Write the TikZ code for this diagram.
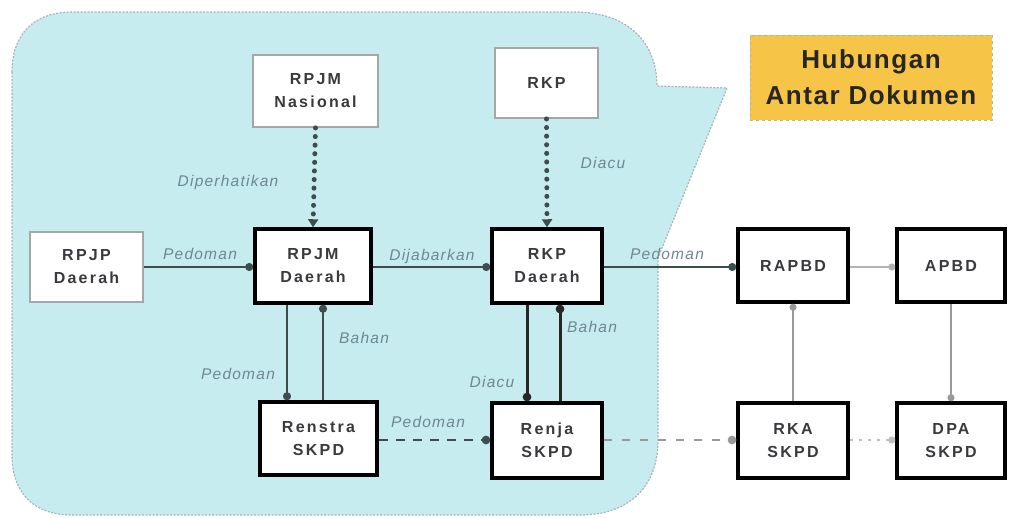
\documentclass[tikz,border=0pt]{standalone}
\usepackage{fontspec}
\setmainfont{Liberation Sans}
\newfontfamily\boxfont[LetterSpace=14]{Liberation Sans}
\newfontfamily\hubfont[LetterSpace=6]{Liberation Sans}
\newfontfamily\lblfont[LetterSpace=8]{Liberation Sans}
\usetikzlibrary{arrows.meta}
\definecolor{regionfill}{HTML}{C6ECEF}
\definecolor{regionline}{HTML}{A9B4B8}
\definecolor{boxtext}{HTML}{3A3A3E}
\definecolor{lbl}{HTML}{6E8793}
\definecolor{conn}{HTML}{3E4C4E}
\definecolor{hubfill}{HTML}{F6C446}
\tikzset{
  docbox/.style={draw=black, line width=3.5pt, fill=white, inner sep=0pt, align=center,
    font=\boxfont\fontsize{16}{23}\selectfont\bfseries, text=boxtext},
  lightbox/.style={docbox, draw=black!35, line width=1.8pt},
  lbltext/.style={font=\lblfont\fontsize{15.5}{18}\selectfont\itshape, text=lbl},
  solidconn/.style={draw=conn, line width=1.8pt, -{Circle[length=8pt]}},
  thickconn/.style={draw=black!85, line width=3pt, -{Circle[length=8.5pt]}},
  greyconn/.style={draw=black!40, line width=1.5pt, -{Circle[length=7pt]}},
  dotconn/.style={draw=conn, line width=5pt, line cap=round, dash pattern=on 0.1pt off 8.5pt,
    -{Triangle[length=8pt,width=10pt,line cap=butt]}},
  dashconn/.style={draw=conn, line width=2.6pt, dash pattern=on 9pt off 8pt, -{Circle[length=8.5pt]}},
}
\begin{document}
\begin{tikzpicture}[x=1pt,y=-1pt]
\useasboundingbox (0,0) rectangle (1009,517);
% region
\draw[fill=regionfill, draw=regionline, line width=1.2pt, dashed, dash pattern=on 2pt off 1.5pt]
  (12,72) .. controls (12,34) and (34,12) .. (72,12) -- (575,12)
  .. controls (625,12) and (657,40) .. (657,86) -- (727,88) -- (658,258) -- (658,440)
  .. controls (658,488) and (628,515) .. (580,515) -- (72,515)
  .. controls (34,515) and (12,493) .. (12,455) -- cycle;
% title
\node[fill=hubfill, draw=black!30, dashed, line width=1pt, minimum width=242pt, minimum height=85pt,
  inner sep=0pt, align=center, font=\hubfont\fontsize{26}{36}\selectfont\bfseries, text=black!85]
  (hub) at (871,77.5) {Hubungan\\Antar Dokumen};
% boxes
\node[lightbox, minimum width=125pt, minimum height=72pt] (rpjmn) at (315.5,91) {RPJM\\Nasional};
\node[lightbox, minimum width=103pt, minimum height=70pt] (rkp) at (546.5,83) {RKP};
\node[lightbox, minimum width=113pt, minimum height=70pt] (rpjp) at (86.5,267) {RPJP\\Daerah};
\node[docbox, minimum width=116pt, minimum height=74pt] (rpjmd) at (313,266) {RPJM\\Daerah};
\node[docbox, minimum width=110pt, minimum height=74pt] (rkpd) at (547,266) {RKP\\Daerah};
\node[docbox, minimum width=110pt, minimum height=73pt] (rapbd) at (793,265.5) {RAPBD};
\node[docbox, minimum width=108pt, minimum height=73pt] (apbd) at (951,265.5) {APBD};
\node[docbox, minimum width=117pt, minimum height=73pt] (renstra) at (318.5,438.5) {Renstra\\SKPD};
\node[docbox, minimum width=110pt, minimum height=75pt] (renja) at (547,440.5) {Renja\\SKPD};
\node[docbox, minimum width=110pt, minimum height=75pt] (rka) at (793,440.5) {RKA\\SKPD};
\node[docbox, minimum width=108pt, minimum height=75pt] (dpa) at (951,440.5) {DPA\\SKPD};
% helper x positions
\coordinate (xa) at (287,0);
\coordinate (xb) at (323,0);
\coordinate (xc) at (527,0);
\coordinate (xd) at (560,0);
\coordinate (ya) at (0,267);
\coordinate (yb) at (0,440);
% connectors
\draw[dotconn] (rpjmn.south) -- (rpjmd.north);
\draw[dotconn] (rkp.south) -- (rkpd.north);
\draw[solidconn] (rpjp.east |- ya) -- (rpjmd.west |- ya);
\draw[solidconn] (rpjmd.east |- ya) -- (rkpd.west |- ya);
\draw[solidconn] (rkpd.east |- ya) -- (rapbd.west |- ya);
\draw[greyconn, draw=black!30] (rapbd.east |- ya) -- (apbd.west |- ya);
\draw[solidconn, line width=2.2pt] (rpjmd.south -| xa) -- (renstra.north -| xa);
\draw[solidconn] (renstra.north -| xb) -- (rpjmd.south -| xb);
\draw[thickconn] (rkpd.south -| xc) -- (renja.north -| xc);
\draw[thickconn] (renja.north -| xd) -- (rkpd.south -| xd);
\draw[dashconn] (renstra.east |- yb) -- (renja.west |- yb);
\draw[dashconn, draw=black!40, dash pattern=on 8pt off 10pt] (renja.east |- yb) -- (rka.west |- yb);
\draw[greyconn, draw=black!25, dash pattern=on 3pt off 6pt, line width=2pt] (rka.east |- yb) -- (dpa.west |- yb);
\draw[greyconn] (rka.north) -- (rapbd.south);
\draw[greyconn] (apbd.south -| dpa.north) -- (dpa.north);
% labels
\node[lbltext] (l1) at (228,182) {Diperhatikan};
\node[lbltext] (l2) at (603,163) {Diacu};
\node[lbltext] (l3) at (200,254) {Pedoman};
\node[lbltext] (l4) at (432,256) {Dijabarkan};
\node[lbltext] (l5) at (667,254) {Pedoman};
\node[lbltext] (l6) at (238,374) {Pedoman};
\node[lbltext] (l7) at (364,338) {Bahan};
\node[lbltext] (l8) at (492,382) {Diacu};
\node[lbltext] (l9) at (592,327) {Bahan};
\node[lbltext] (l10) at (428,422) {Pedoman};
\end{tikzpicture}
\end{document}
